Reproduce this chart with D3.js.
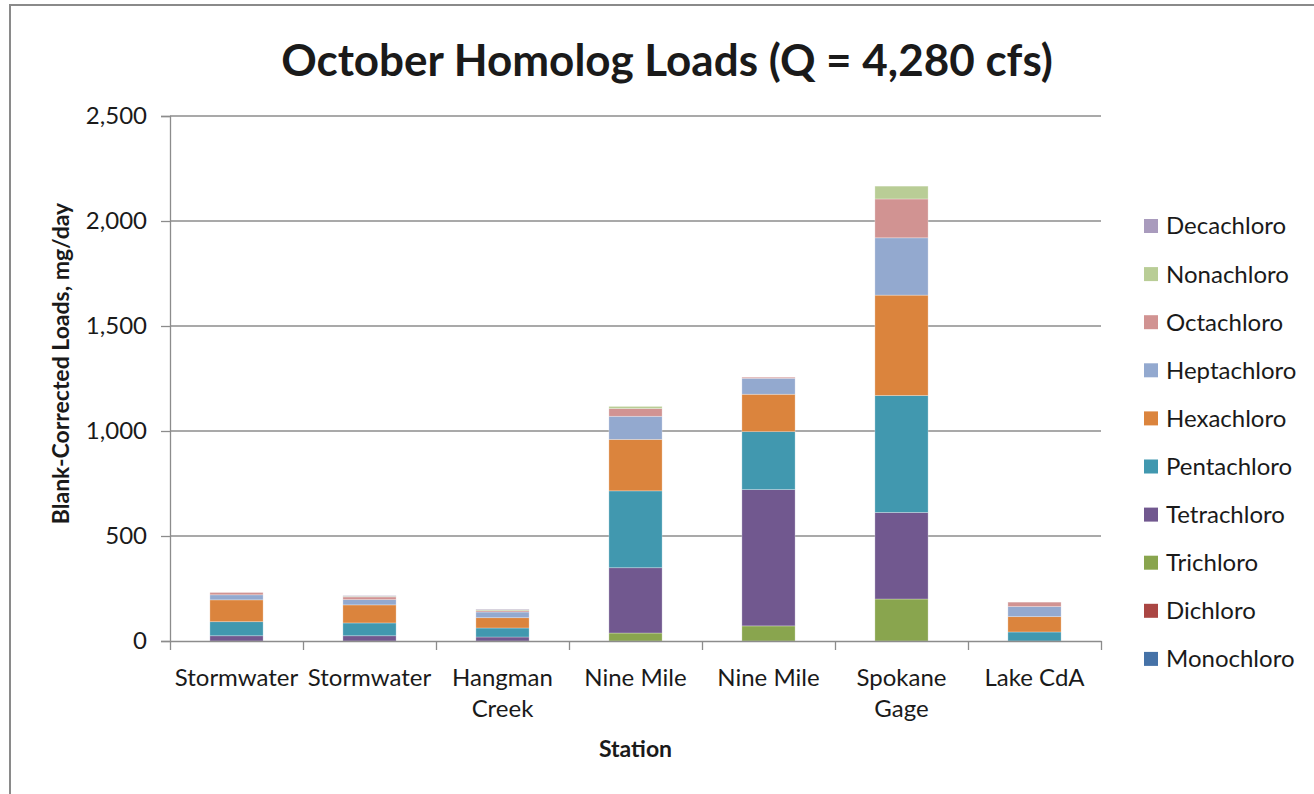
<!DOCTYPE html>
<html lang="en">
<head>
<meta charset="UTF-8">
<title>October Homolog Loads</title>
<script src="https://d3js.org/d3.v7.min.js"></script>
<style>
    body { margin: 0; background: #fff; }
    text { font-family: Lato, "Open Sans", sans-serif; fill: #1a1a1a; }
    .tick-label { font-size: 24px; }
    .axis-title { font-size: 23px; font-weight: bold; }
    .legend-text { font-size: 24px; }
</style>
</head>
<body>
<svg class="chart"></svg>
<script>
    const W = 1314, H = 794;

    // stations (x categories), "\n" = line break in the label
    const stations = ["Stormwater", "Stormwater", "Hangman\nCreek", "Nine Mile", "Nine Mile", "Spokane\nGage", "Lake CdA"];

    // homolog series, bottom to top of the stack
    const homologs = ["Monochloro", "Dichloro", "Trichloro", "Tetrachloro", "Pentachloro",
        "Hexachloro", "Heptachloro", "Octachloro", "Nonachloro", "Decachloro"];
    const colors = ["#4572A7", "#AA4643", "#89A54E", "#71588F", "#4198AF",
        "#DB843D", "#93A9CF", "#D19392", "#B9CD96", "#A99BBD"];

    // loads, mg/day
    const monochloro  = [0, 0, 0, 0, 0, 0, 0];
    const dichloro    = [0, 0, 0, 0, 0, 0, 0];
    const trichloro   = [0, 0, 0, 38, 72, 200, 0];
    const tetrachloro = [25, 25, 19, 311, 649, 412, 0];
    const pentachloro = [67, 61, 43, 366, 276, 557, 43];
    const hexachloro  = [104, 86, 49, 245, 178, 478, 73];
    const heptachloro = [24, 25, 27, 110, 76, 273, 48];
    const octachloro  = [11, 13, 6, 37, 5, 185, 21];
    const nonachloro  = [0, 3, 5, 10, 0, 61, 0];
    const decachloro  = [0, 3, 3, 0, 0, 0, 0];

    const yTicks = [0, 500, 1000, 1500, 2000, 2500];

    const seriesValues = [monochloro, dichloro, trichloro, tetrachloro, pentachloro,
        hexachloro, heptachloro, octachloro, nonachloro, decachloro];

    // build rows for d3.stack
    const rows = stations.map((s, i) => {
        const r = { idx: i };
        homologs.forEach((h, k) => r[h] = seriesValues[k][i]);
        return r;
    });

    const plot = { left: 170, right: 1101, top: 116, bottom: 641 };

    const svg = d3.select(".chart")
        .attr("width", W)
        .attr("height", H)
        .attr("viewBox", `0 0 ${W} ${H}`);

    svg.append("rect").attr("width", W).attr("height", H).attr("fill", "#fff");

    // chart frame (only top and left edges visible)
    svg.append("path")
        .attr("d", `M10,${H + 5} V5 H${W + 5}`)
        .attr("fill", "none")
        .attr("stroke", "#8a8a8a")
        .attr("stroke-width", 2);

    const x = d3.scaleBand()
        .domain(d3.range(stations.length))
        .range([plot.left, plot.right])
        .paddingInner(0.6)
        .paddingOuter(0.3);

    const y = d3.scaleLinear()
        .domain([0, 2500])
        .range([plot.bottom, plot.top]);

    // gridlines
    svg.append("g")
        .selectAll("line")
        .data(yTicks.slice(1))
        .join("line")
        .attr("x1", plot.left)
        .attr("x2", plot.right)
        .attr("y1", d => y(d))
        .attr("y2", d => y(d))
        .attr("stroke", "#8c8c8c")
        .attr("stroke-width", 1.3);

    // stacked bars
    const stack = d3.stack().keys(homologs);
    const layers = stack(rows);

    svg.append("g")
        .selectAll("g")
        .data(layers)
        .join("g")
        .attr("fill", (d, i) => colors[i])
        .selectAll("rect")
        .data(d => d.filter(p => p[1] - p[0] > 0))
        .join("rect")
        .attr("x", d => x(d.data.idx))
        .attr("width", x.bandwidth())
        .attr("y", d => y(d[1]))
        .attr("height", d => y(d[0]) - y(d[1]))
        .attr("stroke", "rgba(255,255,255,0.35)")
        .attr("stroke-width", 0.8);

    // y axis
    const yAxis = svg.append("g")
        .attr("transform", `translate(${plot.left},0)`)
        .call(d3.axisLeft(y)
            .tickValues(yTicks)
            .tickSize(9)
            .tickPadding(14)
            .tickFormat(d3.format(",")));
    yAxis.select(".domain").attr("stroke", "#8c8c8c").attr("stroke-width", 1.3);
    yAxis.selectAll(".tick line").attr("stroke", "#8c8c8c").attr("stroke-width", 1.3);
    yAxis.selectAll(".tick text")
        .attr("class", "tick-label")
        .attr("font-family", null)
        .attr("font-size", null)
        .attr("fill", "#1a1a1a");

    // x axis: ticks between categories
    const xb = d3.scaleLinear().domain([0, stations.length]).range([plot.left, plot.right]);
    const xAxis = svg.append("g")
        .attr("transform", `translate(0,${plot.bottom})`)
        .call(d3.axisBottom(xb)
            .tickValues(d3.range(stations.length + 1))
            .tickSize(9)
            .tickSizeOuter(0)
            .tickFormat(""));
    xAxis.select(".domain").attr("stroke", "#8c8c8c").attr("stroke-width", 1.3);
    xAxis.selectAll(".tick line").attr("stroke", "#8c8c8c").attr("stroke-width", 1.3);

    // category labels
    const labels = svg.append("g")
        .selectAll("text")
        .data(stations)
        .join("text")
        .attr("class", "tick-label")
        .attr("text-anchor", "middle")
        .attr("x", (d, i) => x(i) + x.bandwidth() / 2)
        .attr("y", plot.bottom + 45);
    labels.selectAll("tspan")
        .data(d => d.split("\n"))
        .join("tspan")
        .attr("x", function () { return this.parentNode.getAttribute("x"); })
        .attr("dy", (d, i) => i === 0 ? 0 : 31)
        .text(d => d);

    // title
    svg.append("text")
        .attr("x", 667)
        .attr("y", 76)
        .attr("text-anchor", "middle")
        .style("font-size", "44px")
        .style("font-weight", "bold")
        .text("October Homolog Loads (Q = 4,280 cfs)");

    // axis titles
    svg.append("text")
        .attr("class", "axis-title")
        .attr("text-anchor", "middle")
        .attr("x", (plot.left + plot.right) / 2)
        .attr("y", 757)
        .text("Station");

    svg.append("text")
        .attr("class", "axis-title")
        .attr("text-anchor", "middle")
        .attr("transform", `translate(69,${(plot.top + plot.bottom) / 2 - 15}) rotate(-90)`)
        .text("Blank-Corrected Loads, mg/day");

    // legend, top item = last series
    const legendItems = homologs.map((h, i) => ({ name: h, color: colors[i] })).reverse();
    const legend = svg.append("g")
        .selectAll("g")
        .data(legendItems)
        .join("g")
        .attr("transform", (d, i) => `translate(1144,${226 + i * 48.1})`);
    legend.append("rect")
        .attr("x", 0)
        .attr("y", -7)
        .attr("width", 14)
        .attr("height", 14)
        .attr("fill", d => d.color);
    legend.append("text")
        .attr("class", "legend-text")
        .attr("x", 22)
        .attr("dy", "0.35em")
        .text(d => d.name);
</script>
</body>
</html>
